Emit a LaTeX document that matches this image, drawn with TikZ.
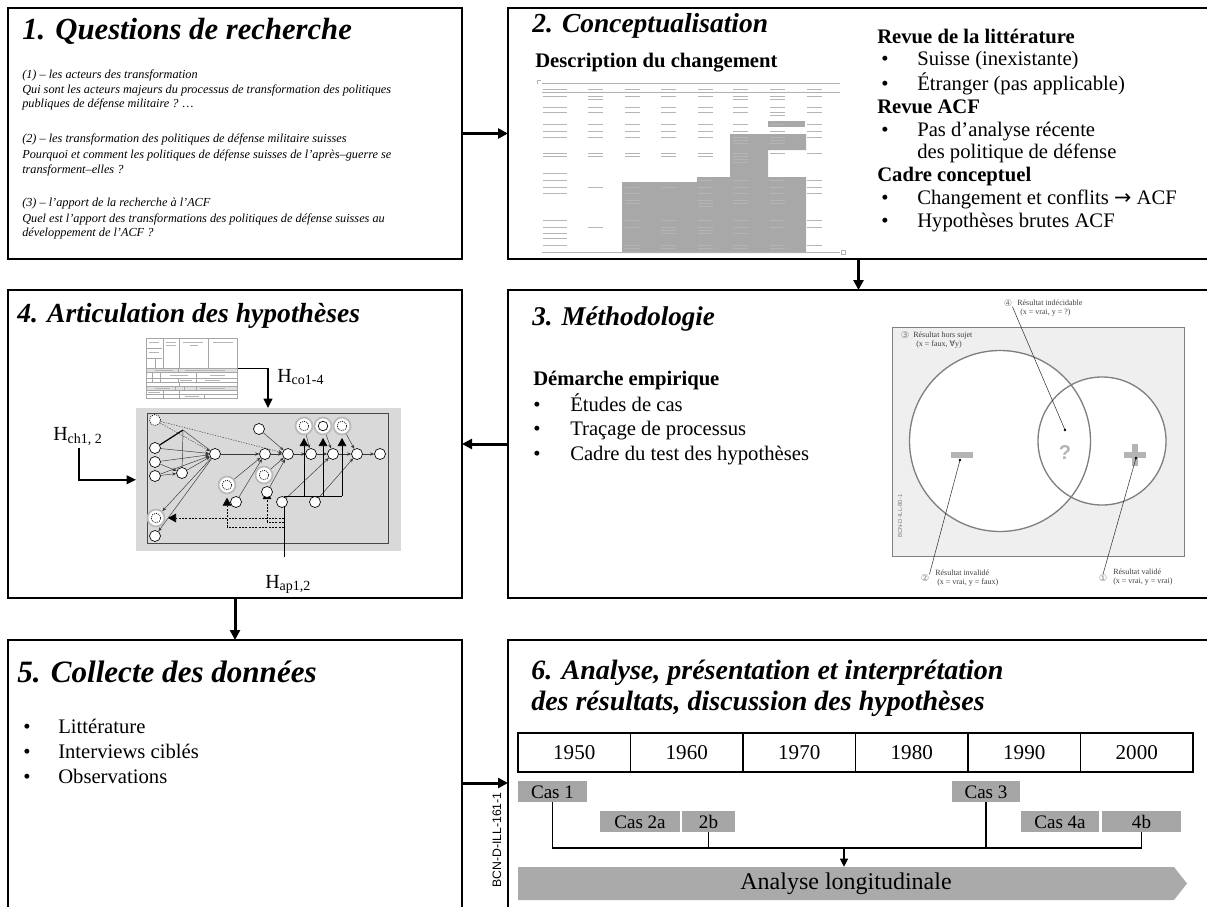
\documentclass[tikz,border=0pt]{standalone}
\usepackage{fontspec}
\setmainfont{Liberation Serif}
\newfontfamily\djsym{DejaVu Sans}
\newfontfamily\arialfont{Liberation Sans}
\usetikzlibrary{arrows.meta,calc}
\pgfdeclarelayer{back}
\pgfdeclarelayer{edges}
\pgfsetlayers{back,edges,main}
\newcommand\fsz[1]{\fontsize{#1}{#1}\selectfont}

\definecolor{casegray}{HTML}{A6A6A6}
\definecolor{bargray}{HTML}{AAAAAA}
\definecolor{tblgray}{HTML}{A8A8A8}
\definecolor{textbar}{HTML}{B5B5B5}
\definecolor{areagray}{HTML}{D9D9D9}
\definecolor{venngray}{HTML}{EFEFEF}
\definecolor{vennline}{HTML}{808080}
\definecolor{signgray}{HTML}{B4B4B4}

\begin{document}
\begin{tikzpicture}[x=0.75pt,y=-0.75pt,
  panel/.style={draw, line width=1.5pt, anchor=north west, inner sep=0pt, outer sep=0pt},
  ttl/.style={anchor=base west, inner sep=0pt},
  body/.style={anchor=base west, inner sep=0pt, font=\fsz{15.5pt}},
  head/.style={anchor=base west, inner sep=0pt, font=\bfseries\fsz{15.5pt}},
  quest/.style={anchor=base west, inner sep=0pt, font=\itshape\fsz{9.2pt}},
  bigarrow/.style={line width=2.25pt, -{Triangle[length=7.5pt,width=7.5pt]}},
  harrow/.style={line width=1.1pt, -{Triangle[length=7pt,width=6.5pt]}},
  gn/.style={circle, draw, fill=white, line width=0.5pt, minimum size=8.25pt, inner sep=0pt},
  gdot/.style={gn, dash pattern=on 0.8pt off 0.8pt},
  gin/.style={gn, minimum size=7.2pt},
  gindot/.style={gin, dash pattern=on 0.8pt off 0.8pt},
  ring/.style={circle, draw=gray!55, line width=1.3pt, fill=white, minimum size=12.75pt, inner sep=0pt},
  ge/.style={draw=gray!45!black, line width=0.35pt},
  gea/.style={ge, -{Stealth[length=3pt,width=2.4pt]}},
  gdash/.style={gea, dash pattern=on 1pt off 1pt},
  tri/.style={line width=0.5pt, -{Triangle[length=6pt,width=6.5pt]}, shorten >=2pt},
  dline/.style={line width=0.5pt, dash pattern=on 1.5pt off 1pt},
  yr/.style={draw, line width=1.1pt, minimum width=84.375pt, minimum height=29.25pt, inner sep=0pt,
    font=\fsz{15.8pt}, text height=11pt, text depth=0pt},
  casebox/.style={fill=casegray, inner sep=0pt, minimum height=15.75pt, font=\fsz{14.3pt},
    text height=10pt, text depth=0pt},
  vlab/.style={anchor=base west, inner sep=0pt, font=\fsz{6pt}, text=black!75},
  vnum/.style={inner sep=0pt, font=\djsym\fsz{7pt}, text=gray},
  leader/.style={line width=0.4pt, draw=black!80}
]
\useasboundingbox (0,0) rectangle (1207,907);

% ---------- the six panels ----------
\node[panel, minimum width=340.5pt, minimum height=188.25pt] (b1) at (8,8) {};
\node[panel, minimum width=525.75pt, minimum height=188.25pt] (b2) at (508,8) {};
\node[panel, minimum width=525.75pt, minimum height=231pt] (b3) at (508,290) {};
\node[panel, minimum width=340.5pt, minimum height=231pt] (b4) at (8,290) {};
\node[panel, minimum width=340.5pt, minimum height=214.5pt] (b5) at (8,640) {};
\node[panel, minimum width=525.75pt, minimum height=214.5pt] (b6) at (508,640) {};

\draw[bigarrow] (b1.east) -- (b2.west);
\draw[bigarrow] (b2.south) -- (b3.north);
\draw[bigarrow] (b3.west) -- (b4.east);
\draw[bigarrow] (b4.south) -- (b5.north);
\draw[bigarrow] (b5.east) -- (b6.west);

% ---------- 1. Questions de recherche ----------
\node[ttl, font=\bfseries\itshape\fsz{23pt}] (t1) at (22,39) {1. Questions de recherche};
\node[quest] (q1a) at (22,78) {(1) – les acteurs des transformation};
\node[quest] (q1b) at (22,93) {Qui sont les acteurs majeurs du processus de transformation des politiques};
\node[quest] (q1c) at (22,107) {publiques de défense militaire ? …};
\node[quest] (q2a) at (22,142) {(2) – les transformation des politiques de défense militaire suisses};
\node[quest] (q2b) at (22,158) {Pourquoi et comment les politiques de défense suisses de l’après–guerre se};
\node[quest] (q2c) at (22,173) {transforment–elles ?};
\node[quest] (q3a) at (22,206) {(3) – l’apport de la recherche à l’ACF};
\node[quest] (q3b) at (22,222) {Quel est l’apport des transformations des politiques de défense suisses au};
\node[quest] (q3c) at (22,236) {développement de l’ACF ?};

% ---------- 2. Conceptualisation ----------
\node[ttl, font=\bfseries\itshape\fsz{20.6pt}] (t2) at (532,32) {2. Conceptualisation};
\node[head] (t2b) at (535,67) {Description du changement};

% reduced table of the components
\fill[tblgray] (768,121) rectangle (805,127);
\fill[tblgray] (730,134) -- (806,134) -- (806,150) -- (768,150) -- (768,177) -- (806,177)
  -- (806,253) -- (622,253) -- (622,182) -- (697,182) -- (697,177) -- (730,177) -- cycle;
\draw[gray!60, line width=0.5pt] (542,83) -- (840,83);
\draw[gray!60, line width=0.4pt] (542,92) -- (840,92);
\draw[gray!60, line width=0.5pt] (542,252.5) -- (840,252.5);
\draw[gray!60, line width=0.4pt] (537,84) -- (537,80) -- (541,80);
\draw[gray!60, line width=0.4pt] (841,250) rectangle (845,254);
\foreach \yy/\cols in {89/{0,1,2,3,4,5,6,7}, 96/{0,1,2,3,4,5,6,7}, 99/{1,5,6},
  107/{0,1,2,3,4,5,6,7}, 112/{0,1,2,3,4,5,6,7}, 115/{6}, 124/{0,1,2,3,4,5,6,7},
  131/{0,1,2,3,4,5,6,7}, 137/{0,1,2,3,4,5,6,7}, 140/{5,6}, 143/{5,6},
  153/{0,1,2,3,4,5,6,7}, 156/{0,1,2,3,4,5}, 159/{5}, 162/{5}, 173/{0},
  180/{0,4,5,6,7}, 187/{0,1,2,3,4,5,6,7}, 193/{0,2,4,5,6,7}, 200/{2,4,5,6},
  203/{2,4,5,6}, 206/{4}, 220/{0,2,3,4,5,6,7}, 227/{0,1,2,3,4,5,6,7}, 230/{3,4},
  233/{0,3,4,5}, 238/{0}, 245/{0,2,3,4,5,6,7}, 248/{2,3,4,5,6}}{
  \foreach \c in \cols {
    \pgfmathsetmacro\xx{{543,588,625,661,698,733,770,807}[\c]}
    \pgfmathsetmacro\ww{ifthenelse(\c==0,24,15)}
    \draw[textbar, line width=0.7pt] (\xx,\yy) -- ++(\ww,0);
  }
}

% literature and framework
\node[head] (r1) at (877,43) {Revue de la littérature};
\node[body] (r1a) at (881,65) {•};
\node[body] (r1at) at (917,65) {Suisse (inexistante)};
\node[body] (r1b) at (881,90) {•};
\node[body] (r1bt) at (917,90) {Étranger (pas applicable)};
\node[head] (r2) at (877,113) {Revue ACF};
\node[body] (r2a) at (881,136) {•};
\node[body] (r2at) at (917,136) {Pas d’analyse récente};
\node[body] (r2bt) at (917,158) {des politique de défense};
\node[head] (r3) at (877,181) {Cadre conceptuel};
\node[body] (r3a) at (881,204) {•};
\node[body] (r3at) at (917,204) {Changement et conflits {\djsym →} ACF};
\node[body] (r3b) at (881,227) {•};
\node[body] (r3bt) at (917,227) {Hypothèses brutes ACF};

% ---------- 3. Méthodologie ----------
\node[ttl, font=\bfseries\itshape\fsz{20.3pt}] (t3) at (532,325) {3. Méthodologie};
\node[head] (m0) at (533,385) {Démarche empirique};
\node[body] (m1) at (533,411) {•};
\node[body] (m1t) at (570,411) {Études de cas};
\node[body] (m2) at (533,435) {•};
\node[body] (m2t) at (570,435) {Traçage de processus};
\node[body] (m3) at (533,460) {•};
\node[body] (m3t) at (570,460) {Cadre du test des hypothèses};

% test frame (Venn)
\node[draw=vennline, fill=venngray, line width=0.8pt, anchor=north west,
  minimum width=219pt, minimum height=171.75pt, inner sep=0pt] (vbox) at (892,327) {};
\node[circle, fill=white, minimum size=135.75pt, inner sep=0pt] (cbigf) at (1000,441) {};
\node[circle, fill=white, minimum size=96pt, inner sep=0pt] (csmallf) at (1102,441) {};
\node[circle, draw=vennline, line width=1pt, minimum size=135.75pt, inner sep=0pt] (cbig) at (1000,441) {};
\node[circle, draw=vennline, line width=1pt, minimum size=96pt, inner sep=0pt] (csmall) at (1102,441) {};
\fill[signgray] (951,452) rectangle (973,458);
\fill[signgray] (1124,452) rectangle (1146,458);
\fill[signgray] (1132,444) rectangle (1138,466);
\node[font=\arialfont\bfseries\fsz{15pt}, text=signgray, inner sep=0pt] (qm) at (1065,453) {?};
\node[font=\arialfont\fsz{4.5pt}, text=gray, rotate=90, inner sep=0pt] (vcode) at (900,516) {BCN-D-ILL-80-1};

\node[vnum] (n3) at (905,335) {③};
\node[vlab] (l3a) at (913,337) {Résultat hors sujet};
\node[vlab] (l3b) at (916,346) {(x = faux, {\djsym ∀}y)};
\node[vnum] (n4) at (1008,303) {④};
\node[vlab] (l4a) at (1017,305) {Résultat indécidable};
\node[vlab] (l4b) at (1020,314) {(x = vrai, y = ?)};
\node[vnum] (n2) at (925,578) {②};
\node[vlab] (l2a) at (935,575) {Résultat invalidé};
\node[vlab] (l2b) at (937,584) {(x = vrai, y = faux)};
\node[vnum] (n1) at (1103,578) {①};
\node[vlab] (l1a) at (1113,574) {Résultat validé};
\node[vlab] (l1b) at (1113,583) {(x = vrai, y = vrai)};
\coordinate (m4) at (1065,430);
\coordinate (m2) at (960,460);
\coordinate (m1) at (1136,458);
\draw[leader] (n4.south east) -- (m4);
\draw[leader] (n2.north east) -- (m2);
\draw[leader] (n1.north) -- (m1);
\fill (m4) circle (1pt);
\fill (m2) circle (1pt);
\fill (m1) circle (1pt);

% ---------- 4. Articulation des hypothèses ----------
\node[ttl, font=\bfseries\itshape\fsz{20.7pt}] (t4) at (17,322) {4. Articulation des hypothèses};

% small grid of the framework
\node[draw=gray!70, line width=0.5pt, anchor=north west, minimum width=68.25pt,
  minimum height=45pt, inner sep=0pt] (stab) at (146,338) {};
\fill[gray!25] (146.5,368) rectangle (236.5,372);
\fill[gray!25] (146.5,386) rectangle (236.5,390);
\begin{scope}[gray!70, line width=0.4pt]
  \draw (163,338) -- (163,368) (179,338) -- (179,368) (208,338) -- (208,368);
  \draw (147,348) -- (162,348) (147,358) -- (162,358) (155,358) -- (155,368);
  \foreach \yy in {368,372,378,382,386,390,394} { \draw (146,\yy) -- (237,\yy); }
  \draw (178,368) -- (178,372);
  \draw (152,372) -- (152,382) (160,372) -- (160,382) (196,372) -- (196,382) (178,378) -- (178,382);
  \draw (179,382) -- (179,386);
  \draw (175,386) -- (175,390) (184,386) -- (184,390) (196,386) -- (196,390);
  \draw (163,390) -- (163,398) (179,390) -- (179,398) (204,394) -- (204,398);
\end{scope}
\begin{scope}[textbar, line width=0.5pt]
  \draw (149,342) -- ++(10,0) (166,342) -- ++(10,0) (183,342) -- ++(20,0) (213,342) -- ++(20,0);
  \draw (149,352) -- ++(10,0) (166,345) -- ++(10,0) (190,345) -- ++(8,0);
  \draw (155,370) -- ++(18,0) (185,370) -- ++(40,0);
  \draw (170,375) -- ++(18,0) (210,375) -- ++(15,0);
  \draw (180,380) -- ++(12,0) (205,380) -- ++(15,0);
  \draw (155,388) -- ++(15,0) (200,388) -- ++(25,0);
  \draw (148,392) -- ++(12,0) (185,396) -- ++(14,0);
\end{scope}

% causal graph
\begin{pgfonlayer}{back}
  \node[fill=areagray, anchor=north west, minimum width=198.75pt, minimum height=107.25pt,
    inner sep=0pt] (garea) at (136,408) {};
  \node[draw=gray!55!black, line width=0.9pt, anchor=north west, minimum width=180.75pt,
    minimum height=97.5pt, inner sep=0pt] (gframe) at (147,413) {};
\end{pgfonlayer}

\node[gdot] (na) at (155,420) {};
\node[gn] (nc1) at (155,448) {};
\node[gn] (nc2) at (155,462) {};
\node[gn] (nc3) at (155,476) {};
\node[gn] (nd) at (182,473) {};
\node[gn] (ne) at (215,454) {};
\node[gn] (nf) at (259,429) {};
\node[gn] (ng) at (265,454) {};
\node[gn] (nh) at (288,454) {};
\node[gn] (ni) at (311,454) {};
\node[gn] (nj) at (333,454) {};
\node[gn] (nk) at (357,454) {};
\node[gn] (nl) at (380,454) {};
\node[ring] (rp1) at (304,426) {};
\node[gindot] (np1) at (304,426) {};
\node[ring] (rp2) at (323,426) {};
\node[gin] (np2) at (323,426) {};
\node[ring] (rp3) at (342,426) {};
\node[gindot] (np3) at (342,426) {};
\node[ring] (rq) at (227,485) {};
\node[gindot] (nq) at (227,485) {};
\node[ring] (rr) at (264,475) {};
\node[gindot] (nr) at (264,475) {};
\node[gn] (ns) at (267,492) {};
\node[gn] (nt) at (236,502) {};
\node[gn] (nu) at (282,502) {};
\node[gn] (nv) at (315,502) {};
\node[ring] (rw) at (156,518) {};
\node[gindot] (nw) at (156,518) {};
\node[gn] (nx) at (155,536) {};

\coordinate (j0) at (183,430);
\coordinate (hj) at (284,496);
\coordinate (bus1) at (304,496);
\coordinate (bus2) at (323,496);
\coordinate (bus3) at (342,496);
\coordinate (hapt) at (284,557);
\coordinate (d1) at (284,518);
\coordinate (d2) at (284,522);
\coordinate (d3) at (284,527);
\coordinate (hcot) at (268,408);
\coordinate (hchs) at (79,448);

\begin{pgfonlayer}{edges}
  \draw[gdash] (na) -- (ne);
  \draw[gdash] (na) -- (nh);
  \draw[ge] (j0) -- (nd);
  \draw[ge] (j0) -- (ne);
  \foreach \s/\t in {nc1/ne, nc2/ne, nc3/ne, nc2/nd, nc3/nd, nd/ne, ne/ng, ng/nh, nh/ni,
      ni/nj, nj/nk, nk/nl, nf/nh, rp1/ni, rp2/nj, rp3/nk, rq/ng, nt/ng, rr/nh, ns/nh,
      nu/nj, nv/nk, ne/rw, ne/nx}
    \draw[gea] (\s) -- (\t);
  \draw[line width=0.6pt] (hapt) -- (hj) -- (bus3);
  \draw[dline, tri] (d1) -- (rw);
  \draw[dline, tri, shorten >=-5pt] (d2) -| (ns);
  \draw[dline, tri, shorten >=2.5pt] (d3) -| (rq);
\end{pgfonlayer}
\draw[line width=0.9pt] (nc1) -- (j0);
\draw[tri] (bus1) -- (rp1);
\draw[tri] (bus2) -- (rp2);
\draw[tri] (bus3) -- (rp3);

% hypothesis labels and their arrows
\node[anchor=base west, inner sep=0pt, font=\fsz{15pt}] (hco) at (277,382) {H\textsubscript{co1-4}};
\node[anchor=base west, inner sep=0pt, font=\fsz{15pt}] (hch) at (53,440) {H\textsubscript{ch1, 2}};
\node[anchor=base west, inner sep=0pt, font=\fsz{15pt}] (hap) at (265,588) {H\textsubscript{ap1,2}};
\draw[harrow] (stab.east) -| (hcot);
\draw[harrow] (hchs) |- (garea.west);

% ---------- 5. Collecte des données ----------
\node[ttl, font=\bfseries\itshape\fsz{23.3pt}] (t5) at (17,682) {5. Collecte des données};
\node[body] (c1) at (23,733) {•};
\node[body] (c1t) at (58,733) {Littérature};
\node[body] (c2) at (23,758) {•};
\node[body] (c2t) at (58,758) {Interviews ciblés};
\node[body] (c3) at (23,783) {•};
\node[body] (c3t) at (58,783) {Observations};

\node[font=\arialfont\fsz{9.2pt}, rotate=90, inner sep=0pt] (code) at (497,840) {BCN-D-ILL-161-1};

% ---------- 6. Analyse ----------
\node[ttl, font=\bfseries\itshape\fsz{21pt}] (t6a) at (531,679) {6. Analyse, présentation et interprétation};
\node[ttl, font=\bfseries\itshape\fsz{21pt}] (t6b) at (531,710) {des résultats, discussion des hypothèses};

\node[yr] (y1) at (574.25,752.5) {1950};
\node[yr] (y2) at (686.75,752.5) {1960};
\node[yr] (y3) at (799.25,752.5) {1970};
\node[yr] (y4) at (911.75,752.5) {1980};
\node[yr] (y5) at (1024.25,752.5) {1990};
\node[yr] (y6) at (1136.75,752.5) {2000};

\node[casebox, minimum width=51.75pt] (k1) at (552.5,791.5) {Cas 1};
\node[casebox, minimum width=60pt] (k2a) at (640,821.5) {Cas 2a};
\node[casebox, minimum width=39.75pt] (k2b) at (708.5,821.5) {2b};
\node[casebox, minimum width=51pt] (k3) at (986,791.5) {Cas 3};
\node[casebox, minimum width=58.5pt] (k4a) at (1060,821.5) {Cas 4a};
\node[casebox, minimum width=59.25pt] (k4b) at (1141.5,821.5) {4b};

\fill[bargray] (518,867) -- (1174,867) -- (1187,883.5) -- (1174,900) -- (518,900) -- cycle;
\node[inner sep=0pt, minimum width=492pt, minimum height=24.75pt, font=\fsz{18pt}] (bar) at (846,883.5) {Analyse longitudinale};

\coordinate (jn) at (844,848);
\draw[line width=0.8pt] (k1.south) |- (jn);
\draw[line width=0.8pt] (k2b.south) |- (jn);
\draw[line width=0.8pt] (k3.south) |- (jn);
\draw[line width=0.8pt] (k4b.south) |- (jn);
\draw[line width=0.8pt, -{Triangle[length=6pt,width=6pt]}] (jn) -- (bar.north -| jn);
\end{tikzpicture}
\end{document}
